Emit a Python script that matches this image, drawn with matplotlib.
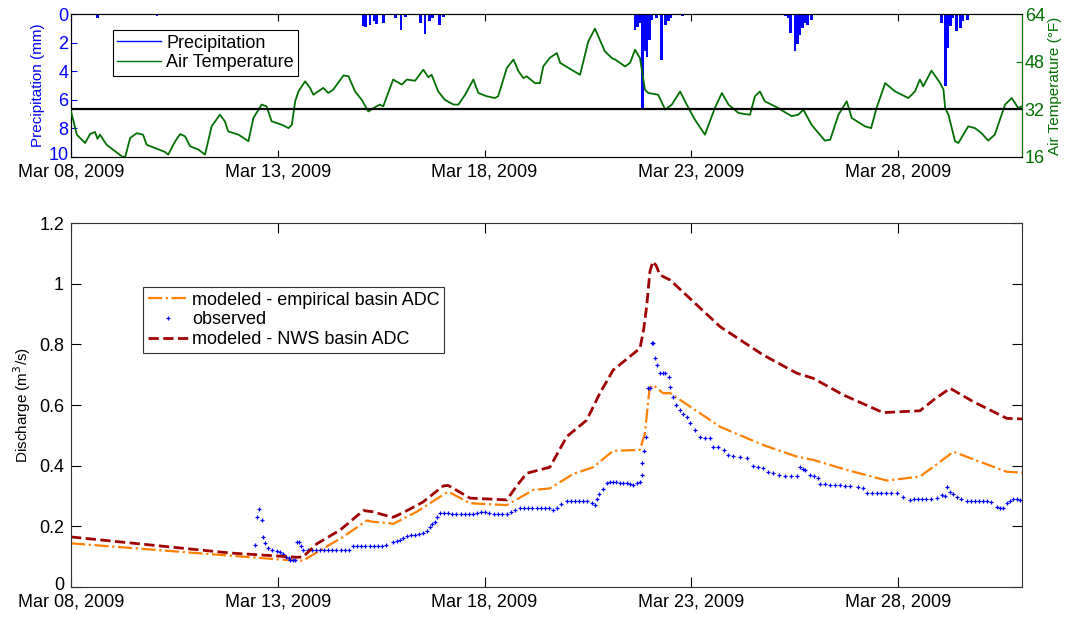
import datetime
import matplotlib
matplotlib.use("Agg")
import matplotlib.pyplot as plt
import matplotlib.dates as mdates
import matplotlib.transforms as mtransforms
import numpy as np

plt.rcParams['font.family'] = ['Liberation Sans', 'DejaVu Sans']

# days since Mar 08, 2009 00:00
start = datetime.datetime(2009, 3, 8)

temp_day = [0.00, 0.14, 0.34, 0.46, 0.58, 0.64, 0.70, 0.86, 1.06, 1.23, 1.31, 1.43, 1.59, 1.74, 1.83,
            2.03, 2.27, 2.35, 2.52, 2.64, 2.76, 2.88, 3.08, 3.24, 3.40, 3.60, 3.72, 3.80, 4.05, 4.29,
            4.41, 4.61, 4.73, 4.85, 5.10, 5.26, 5.34, 5.42, 5.50, 5.66, 5.78, 5.86, 6.10, 6.22, 6.34,
            6.59, 6.71, 6.87, 7.03, 7.19, 7.35, 7.47, 7.55, 7.79, 8.00, 8.12, 8.32, 8.52, 8.64, 8.72,
            8.88, 9.04, 9.25, 9.37, 9.53, 9.73, 9.85, 10.05, 10.25, 10.33, 10.54, 10.70, 10.82, 10.94,
            11.02, 11.22, 11.34, 11.42, 11.58, 11.75, 11.83, 12.03, 12.31, 12.51, 12.67, 12.91, 13.08,
            13.16, 13.40, 13.52, 13.64, 13.76, 13.88, 13.96, 14.20, 14.37, 14.53, 14.73, 14.89, 15.09,
            15.33, 15.57, 15.74, 15.90, 16.14, 16.30, 16.42, 16.54, 16.66, 16.78, 17.11, 17.27, 17.43,
            17.59, 17.71, 17.91, 18.23, 18.36, 18.56, 18.76, 18.88, 19.20, 19.35, 19.48, 19.69, 19.93,
            20.25, 20.41, 20.53, 20.61, 20.81, 21.02, 21.10, 21.14, 21.22, 21.38, 21.46, 21.70, 21.86,
            22.02, 22.18, 22.34, 22.59, 22.75, 22.91, 22.99]
temp_f = [31.3, 23.5, 20.7, 23.7, 24.4, 22.1, 23.5, 20.1, 18.0, 16.2, 16.0, 22.4, 24.0, 23.5, 20.1,
          19.0, 17.7, 16.8, 21.3, 23.7, 22.9, 19.6, 18.5, 16.8, 26.3, 30.2, 28.0, 24.6, 23.5, 21.3,
          29.1, 33.6, 33.0, 28.0, 26.8, 25.7, 26.8, 34.7, 38.0, 41.4, 39.2, 36.9, 39.2, 37.5, 38.6,
          43.4, 43.1, 38.0, 35.2, 31.3, 32.7, 33.6, 33.0, 42.0, 40.3, 42.0, 41.6, 45.3, 42.8, 43.6,
          38.0, 35.2, 33.6, 33.6, 36.9, 42.0, 37.5, 36.4, 35.8, 36.4, 45.9, 48.7, 44.8, 42.5,
          43.1, 40.8, 40.8, 46.4, 49.3, 50.9, 47.6, 45.9, 43.6, 54.8, 59.1, 51.5, 49.2,
          48.7, 46.4, 47.6, 52.0, 49.2, 38.6, 37.5, 36.9, 31.9, 33.6, 38.0, 33.6, 28.5,
          23.5, 32.4, 37.5, 33.6, 30.8, 30.4, 30.2, 36.4, 38.0, 34.7, 32.4, 31.0, 29.7,
          30.2, 31.9, 26.8, 21.5, 21.8, 30.2, 34.7, 29.1, 26.3, 25.7, 32.4, 40.8, 38.0,
          35.8, 38.0, 42.0, 39.7, 45.0, 40.8, 38.6, 32.4, 30.2, 21.3, 20.7, 26.3, 25.7,
          24.0, 21.5, 23.5, 33.6, 35.8, 32.4, 33.0]

precip_day = [0.63, 2.08,
              7.06, 7.13, 7.23, 7.33, 7.38, 7.55, 7.84, 7.98, 8.08, 8.46, 8.56, 8.66, 8.75, 8.92, 9.00,
              13.64, 13.69, 13.76, 13.83, 13.88, 13.93, 13.98, 14.05, 14.15, 14.29, 14.37, 14.44, 14.51,
              14.78, 14.87,
              17.27, 17.36, 17.41, 17.51, 17.58, 17.63, 17.70, 17.77, 17.82, 17.90, 18.11,
              20.73, 20.87, 21.06, 21.14, 21.21, 21.26, 21.33, 21.42, 21.51, 21.57, 21.67]
precip_mm = [0.3, 0.15,
             0.85, 0.9, 0.75, 0.5, 0.7, 0.63, 0.3, 1.15, 0.2, 0.6, 1.38, 0.5, 0.3, 0.8, 0.2,
             1.1, 0.9, 0.63, 6.6, 2.6, 3.0, 1.8, 0.4, 0.3, 3.2, 0.75, 0.47, 0.28,
             0.15, 0.1,
             0.15, 0.3, 1.3, 2.57, 2.1, 1.45, 1.0, 0.63, 0.75, 0.4, 0.1,
             0.1, 0.1, 0.6, 5.06, 2.4, 0.86, 0.28, 1.17, 1.0, 0.47, 0.4]

nws_day = [0.0, 3.85, 5.01, 5.46, 5.61, 5.94, 6.51, 7.07, 7.30, 7.71, 7.79, 8.03, 8.51, 9.00, 9.12,
           9.65, 10.13, 10.54, 10.76, 11.02, 11.58, 11.99, 12.47, 12.79, 13.11, 13.76, 13.85, 13.92,
           14.00, 14.07, 14.15, 14.24, 14.49, 15.70, 16.74, 17.55, 17.95, 18.68, 19.64, 20.53, 20.89,
           21.26, 21.82, 22.63, 23.0]
nws_q = [0.165, 0.112, 0.102, 0.098, 0.099, 0.142, 0.188, 0.252, 0.248, 0.232, 0.230, 0.245, 0.280,
         0.333, 0.335, 0.293, 0.290, 0.287, 0.330, 0.375, 0.395, 0.496, 0.550, 0.639, 0.715, 0.787,
         0.850, 0.924, 1.040, 1.073, 1.060, 1.029, 1.012, 0.858, 0.765, 0.705, 0.688, 0.633, 0.575,
         0.581, 0.620, 0.655, 0.611, 0.556, 0.554]

emp_day = [0.0, 5.01, 5.46, 5.61, 6.10, 6.59, 7.15, 7.30, 7.71, 7.79, 8.36, 9.09, 9.17, 9.65, 10.54,
           11.18, 11.58, 12.15, 12.63, 13.11, 13.76, 13.88, 13.99, 14.08, 14.32, 14.49, 15.70, 16.74,
           17.55, 17.95, 18.76, 19.73, 20.53, 20.89, 21.34, 21.98, 22.63, 23.0]
emp_q = [0.144, 0.091, 0.087, 0.087, 0.127, 0.166, 0.219, 0.215, 0.210, 0.208, 0.248, 0.312, 0.311,
         0.276, 0.270, 0.320, 0.325, 0.373, 0.395, 0.449, 0.452, 0.507, 0.655, 0.666, 0.639, 0.639,
         0.528, 0.468, 0.430, 0.419, 0.386, 0.351, 0.364, 0.400, 0.446, 0.413, 0.380, 0.377]

obs_day = [4.45, 4.49, 4.55, 4.61, 4.64, 4.69, 4.77, 4.86, 4.97, 5.05, 5.13, 5.20, 5.26, 5.30, 5.36,
           5.42, 5.46, 5.52, 5.55, 5.62, 5.72, 5.82, 5.92, 6.02, 6.12, 6.22, 6.32, 6.42, 6.52, 6.62,
           6.72, 6.82, 6.92, 7.02, 7.12, 7.22, 7.32, 7.42, 7.52, 7.62, 7.79, 7.88, 7.96, 8.04, 8.12,
           8.22, 8.32, 8.42, 8.51, 8.60, 8.68, 8.74, 8.80, 8.86, 8.92, 9.02, 9.12, 9.22, 9.32, 9.42,
           9.52, 9.62, 9.72, 9.82, 9.92, 10.02, 10.12, 10.22, 10.32, 10.42, 10.54, 10.64, 10.74, 10.86,
           10.96, 11.06, 11.16, 11.26, 11.36, 11.46, 11.56, 11.66, 11.76, 11.86, 11.99, 12.09, 12.19,
           12.29, 12.39, 12.49, 12.59, 12.67, 12.71, 12.78, 12.86, 12.96, 13.03, 13.11, 13.19, 13.27,
           13.35, 13.44, 13.52, 13.59, 13.68, 13.76, 13.80, 13.82, 13.86, 13.91, 13.96, 13.99, 14.04,
           14.07, 14.12, 14.16, 14.24, 14.32, 14.37, 14.45, 14.49, 14.55, 14.63, 14.73, 14.80, 14.89,
           14.97, 15.09, 15.21, 15.33, 15.45, 15.53, 15.65, 15.78, 15.90, 16.02, 16.18, 16.34, 16.50,
           16.61, 16.74, 16.86, 16.98, 17.11, 17.27, 17.41, 17.55, 17.63, 17.70, 17.75, 17.87, 17.97,
           18.07, 18.11, 18.24, 18.36, 18.48, 18.60, 18.72, 18.84, 19.03, 19.16, 19.24, 19.36, 19.48,
           19.60, 19.72, 19.84, 19.97, 20.13, 20.29, 20.38, 20.48, 20.58, 20.68, 20.80, 20.94, 21.06,
           21.14, 21.18, 21.26, 21.33, 21.42, 21.52, 21.66, 21.76, 21.86, 21.96, 22.06, 22.15, 22.25,
           22.39, 22.47, 22.55, 22.63, 22.71, 22.79, 22.88, 22.95]
obs_q = [0.138, 0.232, 0.256, 0.221, 0.166, 0.146, 0.127, 0.122, 0.118, 0.114, 0.109, 0.100, 0.095,
         0.089, 0.089, 0.090, 0.149, 0.149, 0.135, 0.122, 0.122, 0.122, 0.122, 0.122, 0.122, 0.122,
         0.122, 0.122, 0.122, 0.122, 0.122, 0.135, 0.135, 0.135, 0.135, 0.135, 0.135, 0.135, 0.135,
         0.140, 0.149, 0.152, 0.155, 0.160, 0.168, 0.170, 0.172, 0.175, 0.177, 0.185, 0.199, 0.207,
         0.215, 0.230, 0.243, 0.243, 0.243, 0.242, 0.242, 0.241, 0.241, 0.240, 0.240, 0.244, 0.246,
         0.246, 0.244, 0.242, 0.240, 0.240, 0.240, 0.248, 0.255, 0.259, 0.259, 0.259, 0.259, 0.259,
         0.259, 0.259, 0.259, 0.254, 0.262, 0.272, 0.285, 0.283, 0.283, 0.283, 0.283, 0.283, 0.277,
         0.270, 0.289, 0.305, 0.322, 0.342, 0.345, 0.347, 0.345, 0.343, 0.342, 0.342, 0.338, 0.336,
         0.342, 0.347, 0.369, 0.408, 0.449, 0.494, 0.655, 0.655, 0.805, 0.805, 0.754, 0.732, 0.707,
         0.707, 0.707, 0.694, 0.660, 0.625, 0.600, 0.584, 0.570, 0.561, 0.540, 0.518, 0.496, 0.490,
         0.490, 0.460, 0.460, 0.453, 0.435, 0.432, 0.430, 0.424, 0.400, 0.395, 0.391, 0.380, 0.377,
         0.370, 0.366, 0.366, 0.366, 0.395, 0.390, 0.386, 0.369, 0.365, 0.358, 0.340, 0.338, 0.337,
         0.336, 0.335, 0.334, 0.333, 0.330, 0.325, 0.311, 0.310, 0.310, 0.310, 0.310, 0.310, 0.309,
         0.298, 0.287, 0.290, 0.290, 0.290, 0.290, 0.291, 0.292, 0.303, 0.300, 0.331, 0.314, 0.305,
         0.298, 0.290, 0.285, 0.285, 0.285, 0.285, 0.285, 0.285, 0.280, 0.265, 0.260, 0.259, 0.276,
         0.285, 0.289, 0.289, 0.287]

tick_days = [0, 5, 10, 15, 20]


def to_dates(days):
    return mdates.date2num(start) + np.asarray(days, dtype=float)


def lift_first_ylabel(axis_obj, fig, dots):
    # nudge the lowest y tick label up so it clears the date labels
    lab = axis_obj.yaxis.get_major_ticks()[-1 if axis_obj.yaxis_inverted() else 0].label1
    lab.set_transform(mtransforms.offset_copy(lab.get_transform(), fig=fig, y=dots, units='dots'))


x0 = mdates.date2num(start)
xlim = (x0, x0 + 23)
date_fmt = mdates.DateFormatter('%b %d, %Y')
spine_col = '#333333'

fig = plt.figure(figsize=(10.78, 6.23), dpi=100)

# ---- top panel: precipitation + air temperature
ax1 = fig.add_axes([0.0659, 0.748, 0.8822, 0.2295])
ax1.bar(to_dates(precip_day), precip_mm, width=0.07, color='blue', edgecolor='none', zorder=2)
ax1.set_ylim(10, 0)
ax1.set_yticks([0, 2, 4, 6, 8, 10])
ax1.set_xlim(xlim)
ax1.set_xticks(to_dates(tick_days))
ax1.xaxis.set_major_formatter(date_fmt)
ax1.tick_params(axis='x', direction='in', top=True, labelsize=13, length=5, pad=5)
ax1.tick_params(axis='y', direction='in', right=True, colors='blue', labelsize=13, length=4, pad=2)
ax1.set_ylabel('Precipitation (mm)', color='blue', fontsize=11, labelpad=2)
for s in ax1.spines.values():
    s.set_color(spine_col)

ax2 = ax1.twinx()
ax2.plot(to_dates(temp_day), temp_f, color='#007000', lw=1.3, zorder=3)
ax2.axhline(32, color='black', lw=1.6, zorder=4)
ax2.set_ylim(16, 64)
ax2.set_yticks([16, 32, 48, 64])
ax2.set_xlim(xlim)
ax2.tick_params(axis='y', direction='in', colors='#007000', labelsize=13, length=4, pad=2)
ax2.spines['right'].set_color('#007000')
ax2.set_ylabel('Air Temperature (\u00b0F)', color='#007000', fontsize=11, labelpad=2)

h1 = plt.Line2D([], [], color='blue', lw=1.0)
h2 = plt.Line2D([], [], color='#007000', lw=1.0)
leg = ax2.legend([h1, h2], ['Precipitation', 'Air Temperature'], loc='upper left',
                 bbox_to_anchor=(0.044, 0.888), borderaxespad=0, fontsize=13, fancybox=False,
                 framealpha=1, edgecolor='black', handlelength=2.4, handletextpad=0.3,
                 labelspacing=0.15, borderpad=0.25)
leg.get_frame().set_linewidth(0.8)

# ---- bottom panel: discharge
ax = fig.add_axes([0.0659, 0.0578, 0.8822, 0.5842])
ax.plot(to_dates(emp_day), emp_q, color='#FF8000', lw=1.6, ls='-.',
        label='modeled - empirical basin ADC')
ax.plot(to_dates(obs_day), obs_q, '+', color='blue', ms=3.5, mew=0.9, ls='none',
        label='observed')
ax.plot(to_dates(nws_day), nws_q, color='#A00000', lw=2.0, ls='--',
        label='modeled - NWS basin ADC')
ax.set_xlim(xlim)
ax.set_ylim(0, 1.2)
ax.set_yticks([0, 0.2, 0.4, 0.6, 0.8, 1.0, 1.2])
ax.set_yticklabels(['0', '0.2', '0.4', '0.6', '0.8', '1', '1.2'])
ax.set_xticks(to_dates(tick_days))
ax.xaxis.set_major_formatter(date_fmt)
ax.tick_params(direction='in', top=True, right=True, labelsize=13, length=7, pad=5)
ax.set_ylabel('Discharge (m$^3$/s)', fontsize=11, labelpad=4)
for s in ax.spines.values():
    s.set_color(spine_col)

leg2 = ax.legend(loc='upper left', bbox_to_anchor=(0.0757, 0.824), borderaxespad=0, fontsize=13,
                 fancybox=False, framealpha=1, edgecolor='#333333', handlelength=2.3,
                 handletextpad=0.15, labelspacing=0.15, borderpad=0.25, markerscale=1.0)
leg2.get_frame().set_linewidth(0.8)

lift_first_ylabel(ax1, fig, 3)
lift_first_ylabel(ax, fig, 3)

fig.savefig('out.png', dpi=100)
